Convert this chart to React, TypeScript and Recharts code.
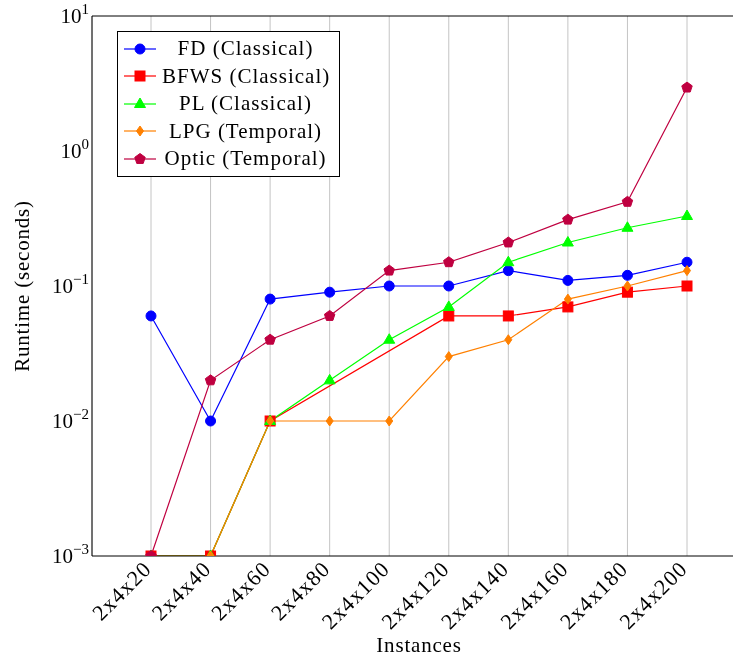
import React from 'react';
import { LineChart, Line, XAxis, YAxis, CartesianGrid, Legend } from 'recharts';

const categories = ['2x4x20', '2x4x40', '2x4x60', '2x4x80', '2x4x100', '2x4x120', '2x4x140', '2x4x160', '2x4x180', '2x4x200'];

const fdValues = [0.06, 0.01, 0.08, 0.09, 0.1, 0.1, 0.13, 0.11, 0.12, 0.15];
const bfwsValues = [0.001, 0.001, 0.01, null, null, 0.06, 0.06, 0.07, 0.09, 0.1];
const plValues = [0.001, 0.001, 0.01, 0.02, 0.04, 0.07, 0.15, 0.21, 0.27, 0.33];
const lpgValues = [0.001, 0.001, 0.01, 0.01, 0.01, 0.03, 0.04, 0.08, 0.1, 0.13];
const opticValues = [0.001, 0.02, 0.04, 0.06, 0.13, 0.15, 0.21, 0.31, 0.42, 2.95];

const majorTicks = [0.001, 0.01, 0.1, 1, 10];
const minorTicks: number[] = [];
[0.001, 0.01, 0.1, 1].forEach((d) => {
    [2, 3, 4, 5, 6, 7, 8, 9].forEach((m) => minorTicks.push(m * d));
});

const series = [
    { key: 'fd', name: 'FD (Classical)', color: '#0000ff', shape: 'circle' },
    { key: 'bfws', name: 'BFWS (Classical)', color: '#ff0000', shape: 'square' },
    { key: 'pl', name: 'PL (Classical)', color: '#00ff00', shape: 'triangle' },
    { key: 'lpg', name: 'LPG (Temporal)', color: '#ff8000', shape: 'diamond' },
    { key: 'optic', name: 'Optic (Temporal)', color: '#bf0040', shape: 'pentagon' },
];

const data = categories.map((c, i) => ({
    name: c,
    fd: fdValues[i],
    bfws: bfwsValues[i],
    pl: plValues[i],
    lpg: lpgValues[i],
    optic: opticValues[i],
}));

const FONT = '"Liberation Serif", "Times New Roman", serif';
const XPAD = { left: 59, right: 51 };

const Marker = ({ shape, x, y, color }: { shape: string; x: number; y: number; color: string }) => {
    if (shape === 'circle') return <circle cx={x} cy={y} r={5} fill={color} stroke={color} />;
    if (shape === 'square') return <rect x={x - 5} y={y - 5} width={10} height={10} fill={color} stroke={color} />;
    if (shape === 'triangle') {
        const pts = `${x},${y - 6} ${x + 5.5},${y + 3.5} ${x - 5.5},${y + 3.5}`;
        return <polygon points={pts} fill={color} stroke={color} />;
    }
    if (shape === 'diamond') {
        const pts = `${x},${y - 5} ${x + 3.5},${y} ${x},${y + 5} ${x - 3.5},${y}`;
        return <polygon points={pts} fill={color} stroke={color} />;
    }
    const pts = [0, 1, 2, 3, 4]
        .map((k) => {
            const a = -Math.PI / 2 + (k * 2 * Math.PI) / 5;
            return `${x + 5.5 * Math.cos(a)},${y + 5.5 * Math.sin(a)}`;
        })
        .join(' ');
    return <polygon points={pts} fill={color} stroke={color} />;
};

const makeDot = (shape: string, color: string) => (props: any) => {
    const { cx, cy, index } = props;
    if (cx == null || cy == null || props.value == null) return <g key={index} />;
    return <Marker key={index} shape={shape} x={cx} y={cy} color={color} />;
};

const YTick = (props: any) => {
    const { x, y, payload } = props;
    const exp = Math.round(Math.log10(payload.value));
    return (
        <text x={x} y={y + 7} textAnchor="end" fontFamily={FONT} fontSize={21} fill="#000">
            <tspan>10</tspan>
            <tspan dy={-9} fontSize={15}>{exp < 0 ? `\u2212${-exp}` : `${exp}`}</tspan>
        </text>
    );
};

const XTick = (props: any) => {
    const { x, y, payload } = props;
    const px = x + 2;
    const py = y + 14;
    return (
        <text
            x={px}
            y={py}
            textAnchor="end"
            fontFamily={FONT}
            fontSize={22}
            letterSpacing={1.2}
            fill="#000"
            transform={`rotate(-45 ${px} ${py})`}
        >
            {payload.value}
        </text>
    );
};

const LegendBox = () => (
    <div
        style={{
            border: '1px solid #000',
            background: '#fff',
            padding: '3px 0 3px 0',
            width: 221,
            fontFamily: FONT,
            fontSize: 21,
            letterSpacing: 1,
        }}
    >
        {series.map((s) => (
            <div key={s.key} style={{ display: 'flex', alignItems: 'center', height: 27.5 }}>
                <svg width={44} height={20} style={{ flex: 'none' }}>
                    <line x1={6} y1={10} x2={38} y2={10} stroke={s.color} strokeWidth={1.2} />
                    <Marker shape={s.shape} x={22} y={10} color={s.color} />
                </svg>
                <span style={{ flex: 1, textAlign: 'center', whiteSpace: 'nowrap', paddingRight: 10 }}>{s.name}</span>
            </div>
        ))}
    </div>
);

export default function App() {
    return (
        <div style={{ position: 'fixed', left: 8, top: 0, width: 730, height: 658 }}>
            <style>{'html{overflow:hidden}'}</style>
            <LineChart width={730} height={658} data={data} margin={{ top: 16, right: 0, bottom: 0, left: 0 }}>
                <CartesianGrid horizontal={false} stroke="#c4c4c4" />
                <XAxis
                    dataKey="name"
                    scale="point"
                    padding={XPAD}
                    height={102}
                    axisLine={{ stroke: '#000' }}
                    tickLine={false}
                    tickSize={0}
                    tickMargin={0}
                    interval={0}
                    tick={<XTick />}
                    label={{
                        content: (p: any) => {
                            const vb = p.viewBox;
                            return (
                                <text
                                    x={vb.x + vb.width / 2 + 4}
                                    y={vb.y + vb.height - 6}
                                    textAnchor="middle"
                                    fontFamily={FONT}
                                    fontSize={21}
                                    letterSpacing={0.8}
                                    fill="#000"
                                >
                                    Instances
                                </text>
                            );
                        },
                    }}
                />
                <XAxis
                    xAxisId="bottomTicks"
                    dataKey="name"
                    scale="point"
                    padding={XPAD}
                    orientation="bottom"
                    mirror
                    axisLine={false}
                    tick={false}
                    tickSize={6}
                    tickLine={{ stroke: '#444' }}
                    interval={0}
                />
                <XAxis
                    xAxisId="top"
                    dataKey="name"
                    scale="point"
                    padding={XPAD}
                    orientation="top"
                    mirror
                    axisLine={{ stroke: '#000' }}
                    tick={false}
                    tickSize={6}
                    tickLine={{ stroke: '#444' }}
                    interval={0}
                />
                <YAxis
                    type="number"
                    scale="log"
                    domain={[0.001, 10]}
                    allowDataOverflow
                    ticks={majorTicks}
                    width={84}
                    axisLine={{ stroke: '#000' }}
                    tickLine={false}
                    tickSize={0}
                    tickMargin={3}
                    tick={<YTick />}
                    label={{
                        content: (p: any) => {
                            const vb = p.viewBox;
                            const cx = vb.x + 14;
                            const cy = vb.y + vb.height / 2;
                            return (
                                <text
                                    x={cx}
                                    y={cy}
                                    textAnchor="middle"
                                    dominantBaseline="central"
                                    fontFamily={FONT}
                                    fontSize={21}
                                    letterSpacing={0.8}
                                    fill="#000"
                                    transform={`rotate(-90 ${cx} ${cy})`}
                                >
                                    Runtime (seconds)
                                </text>
                            );
                        },
                    }}
                />
                <YAxis yAxisId="major" type="number" scale="log" domain={[0.001, 10]} allowDataOverflow ticks={majorTicks} mirror axisLine={false} tick={false} tickSize={7} tickLine={{ stroke: '#444' }} />
                <YAxis yAxisId="minor" type="number" scale="log" domain={[0.001, 10]} allowDataOverflow ticks={minorTicks} mirror axisLine={false} tick={false} tickSize={5} tickLine={{ stroke: '#444' }} />
                {series.map((s) => (
                    <Line
                        key={s.key}
                        dataKey={s.key}
                        name={s.name}
                        stroke={s.color}
                        strokeWidth={1.2}
                        connectNulls
                        dot={makeDot(s.shape, s.color)}
                        activeDot={false}
                        isAnimationActive={false}
                    />
                ))}
                <Legend
                    layout="vertical"
                    align="center"
                    verticalAlign="middle"
                    content={() => <LegendBox />}
                    wrapperStyle={{ position: 'absolute', left: 109, top: 31, width: 'auto' }}
                />
            </LineChart>
        </div>
    );
}
